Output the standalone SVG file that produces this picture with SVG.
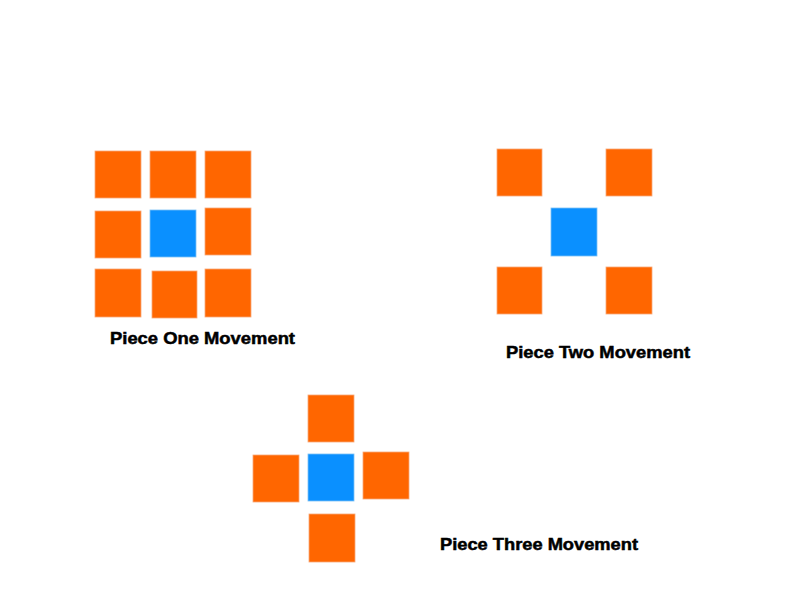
<svg xmlns="http://www.w3.org/2000/svg" width="800" height="600" viewBox="0 0 800 600">
<style>
.o{fill:#FF6600;stroke:#F7A878;stroke-width:0.8}
.b{fill:#0A90FF;stroke:#7CC0F5;stroke-width:0.8}
.t{font-family:"Liberation Sans",Arial,sans-serif;font-weight:bold;font-size:16.5px;fill:#000;stroke:#000;stroke-width:0.5}
</style>
<rect width="800" height="600" fill="#fff"/>
<g id="piece-one">
<rect class="o" x="95" y="151" width="46" height="47"/>
<rect class="o" x="150" y="151" width="46" height="47"/>
<rect class="o" x="205" y="151" width="46" height="47"/>
<rect class="o" x="95" y="211" width="46" height="47"/>
<rect class="b" x="150" y="210" width="46" height="47"/>
<rect class="o" x="205" y="208" width="46" height="47"/>
<rect class="o" x="95" y="269" width="46" height="48"/>
<rect class="o" x="152" y="271" width="45" height="47"/>
<rect class="o" x="205" y="269" width="46" height="48"/>
<text class="t" x="110" y="344" textLength="185" lengthAdjust="spacingAndGlyphs">Piece One Movement</text>
</g>
<g id="piece-two">
<rect class="o" x="497" y="149" width="45" height="47"/>
<rect class="o" x="606" y="149" width="46" height="47"/>
<rect class="b" x="551" y="208" width="46" height="48"/>
<rect class="o" x="497" y="267" width="45" height="47"/>
<rect class="o" x="606" y="267" width="46" height="47"/>
<text class="t" x="506" y="358" textLength="184" lengthAdjust="spacingAndGlyphs">Piece Two Movement</text>
</g>
<g id="piece-three">
<rect class="o" x="308" y="395" width="46" height="47"/>
<rect class="o" x="253" y="455" width="46" height="47"/>
<rect class="b" x="308" y="454" width="46" height="47"/>
<rect class="o" x="363" y="452" width="46" height="47"/>
<rect class="o" x="309" y="514" width="46" height="48"/>
<text class="t" x="440" y="550" textLength="198" lengthAdjust="spacingAndGlyphs">Piece Three Movement</text>
</g>
<g id="connectors"/>
</svg>
